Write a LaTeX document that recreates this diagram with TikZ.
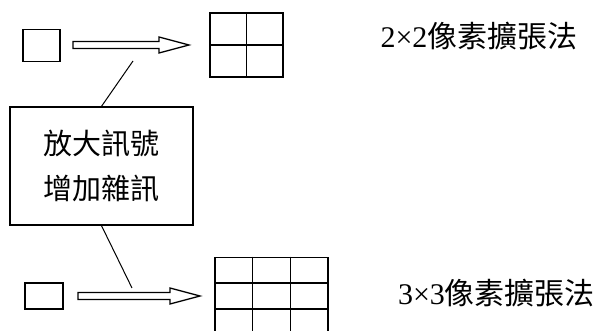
\documentclass[tikz,border=0pt]{standalone}
\usepackage{fontspec}
\newfontfamily\cjk{Noto Sans CJK TC}
\setmainfont{Liberation Serif}
\usetikzlibrary{calc}

% hollow block arrow from #1 to #2 (both on one horizontal line)
\newcommand{\blockarrow}[2]{%
  \draw[line width=1.3pt] let \p1=(#1), \p2=(#2) in
    (\x1,\y1+3.5) -- (\x2-30,\y1+3.5) -- (\x2-30,\y1+8) -- (\x2,\y1)
    -- (\x2-30,\y1-8) -- (\x2-30,\y1-3.5) -- (\x1,\y1-3.5) -- cycle;}

\begin{document}
\begin{tikzpicture}
        [x=1pt,y=1pt,
        pixel/.style={draw, line width=1.3pt, inner sep=0pt},
        cell/.style={line width=1.6pt},
        line/.style={line width=1pt},
        label/.style={font=\fontsize{30}{34}\selectfont, inner sep=0pt}]
    \useasboundingbox (0,0) rectangle (602,331);
    \clip (0,0) rectangle (602,331);
    % 2x2 expansion
    \node[pixel, minimum width=37, minimum height=32] (s2) at (41.5,285.5) {};
    \node[pixel, cell, minimum width=73, minimum height=64] (g2) at (246.5,286) {};
    \draw[cell] (g2.north) -- (g2.south);
    \draw[cell] (g2.west) -- (g2.east);
    \coordinate (a2s) at (73,286);
    \coordinate (a2e) at (189,286);
    \blockarrow{a2s}{a2e}
    \node[label] (t2) at (479,295) {2×2{\cjk 像素擴張法}};
    % 3x3 expansion
    \node[pixel, minimum width=38, minimum height=26] (s3) at (44,35) {};
    \node[pixel, cell, minimum width=113, minimum height=77] (g3) at (271.5,35) {};
    \foreach \f in {1/3,2/3} {
        \draw[cell] ($(g3.north west)!\f!(g3.north east)$) -- ($(g3.south west)!\f!(g3.south east)$);
        \draw[cell] ($(g3.north west)!\f!(g3.south west)$) -- ($(g3.north east)!\f!(g3.south east)$);
    }
    \coordinate (a3s) at (78,35);
    \coordinate (a3e) at (200,35);
    \blockarrow{a3s}{a3e}
    \node[label] (t3) at (496.5,38) {3×3{\cjk 像素擴張法}};
    % note box
    \node[pixel, minimum width=183, minimum height=118, align=center,
        font=\cjk\fontsize{29}{45}\selectfont] (note) at (101.5,165)
        {放大訊號\\增加雜訊};
    \coordinate (p2) at (133,270);
    \coordinate (p3) at (132,43);
    \draw[line] (p2) -- (note.north);
    \draw[line] (note.south) -- (p3);
\end{tikzpicture}
\end{document}
